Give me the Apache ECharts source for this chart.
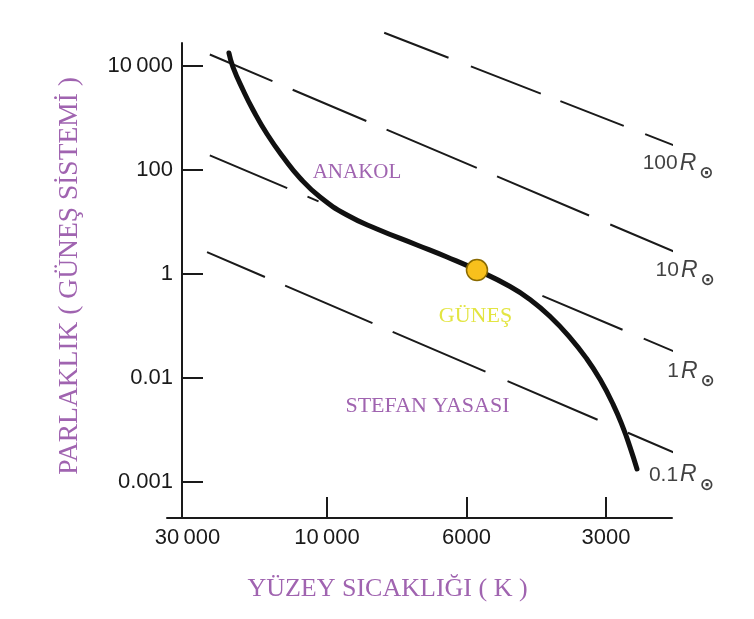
<!DOCTYPE html>
<html>
<head>
<meta charset="utf-8">
<script src="https://cdn.jsdelivr.net/npm/echarts@6/dist/echarts.min.js"></script>
<style>
  html, body { margin: 0; padding: 0; background: #ffffff; }
  #chart { width: 754px; height: 619px; }
</style>
</head>
<body>
<div id="chart"></div>
<script>
// Schematic H-R diagram: both axes are evenly spaced tick positions,
// labelled with the temperature / luminosity they stand for.
const tempLabels = ['30\u2009000', '10\u2009000', '6000', '3000'];
const lumLabels = ['0.001', '0.01', '1', '100', '10\u2009000'];

// Main sequence (ANAKOL), in tick-position units
const mainSeqTemp = [0.297, 0.326, 0.398, 0.470, 0.570, 0.685, 0.806, 0.950, 1.143, 1.358, 1.645, 1.860,
                     2.075, 2.312, 2.455, 2.599, 2.742, 2.864, 2.957, 3.050, 3.122, 3.172, 3.222];
const mainSeqLum  = [4.125, 3.990, 3.769, 3.577, 3.346, 3.125, 2.923, 2.740, 2.567, 2.433, 2.279, 2.163,
                     2.038, 1.880, 1.755, 1.591, 1.389, 1.181, 0.987, 0.749, 0.523, 0.335, 0.126];

// The Sun
const sunPoint = [2.075, 2.038];

// Lines of constant radius (Stefan law), start and end points
const radiusNames = ['100', '10', '1', '0.1'];
const radiusLineStart = [[1.41, 4.32], [0.16, 4.11], [0.16, 3.14], [0.14, 2.21]];
const radiusLineEnd   = [[3.52, 3.22], [3.55, 2.18], [3.55, 1.22], [3.58, 0.23]];

// Styling
const INK = '#1a1a1a';
const PURPLE = '#a064b0';
const SANS = 'Liberation Sans';
const SERIF = 'Liberation Serif';
// dash / gap lengths in pixels; the 1 R line runs under the main sequence curve
const dashPatterns = [
  [69, 24, 75, 21, 68, 23, 38],
  [68, 22, 80, 22, 98, 22, 100, 23, 78],
  [84, 22, 12, 243, 87, 23, 42],
  [63, 22, 95, 22, 101, 24, 98, 33, 65]
];
const radiusLabelOffsets = [[35, 16], [32, 15], [32, 16], [27, 17]];

const chart = echarts.init(document.getElementById('chart'), null, { renderer: 'canvas' });

const radiusSeries = radiusNames.map((nm, i) => ({
  type: 'line',
  name: nm + ' R',
  data: [radiusLineStart[i], radiusLineEnd[i]],
  showSymbol: false,
  symbol: 'none',
  clip: false,
  silent: true,
  z: 2,
  lineStyle: { color: INK, width: 2, type: dashPatterns[i], cap: 'butt' }
}));

const option = {
  animation: false,
  backgroundColor: '#ffffff',
  grid: { left: 167, right: 82, top: 43, bottom: 101, containLabel: false, outerBoundsMode: 'none' },
  xAxis: {
    type: 'value',
    min: -0.147,
    max: 3.473,
    name: 'YÜZEY SICAKLIĞI ( K )',
    nameLocation: 'middle',
    nameGap: 58,
    nameTextStyle: { fontFamily: SERIF, fontSize: 26, color: PURPLE, padding: [0, 64, 0, 0] },
    axisLine: { onZero: false, lineStyle: { color: INK, width: 2 } },
    axisTick: { show: true, inside: true, length: 21, customValues: [1, 2, 3],
                lineStyle: { color: INK, width: 2 } },
    axisLabel: {
      customValues: [0, 1, 2, 3],
      formatter: v => tempLabels[Math.round(v)],
      margin: 9, fontFamily: SANS, fontSize: 22, color: INK
    },
    splitLine: { show: false }
  },
  yAxis: {
    type: 'value',
    min: -0.346,
    max: 4.221,
    offset: -15,
    name: 'PARLAKLIK ( GÜNEŞ SİSTEMİ )',
    nameLocation: 'middle',
    nameRotate: 90,
    nameGap: 98,
    nameTextStyle: { fontFamily: SERIF, fontSize: 27.5, color: PURPLE, padding: [0, 0, 0, 9] },
    axisLine: { onZero: false, lineStyle: { color: INK, width: 2 } },
    axisTick: { show: true, inside: true, length: 21, customValues: [0, 1, 2, 3, 4],
                lineStyle: { color: INK, width: 2 } },
    axisLabel: {
      customValues: [0, 1, 2, 3, 4],
      formatter: v => lumLabels[Math.round(v)],
      margin: 9, fontFamily: SANS, fontSize: 22, color: INK
    },
    splitLine: { show: false }
  },
  series: [
    ...radiusSeries,
    {
      // radius captions at the right end of each constant-radius line
      type: 'scatter',
      name: 'radius captions',
      data: radiusLineEnd.map((p, i) => ({
        value: p, name: radiusNames[i], label: { offset: radiusLabelOffsets[i] }
      })),
      symbolSize: 0,
      clip: false,
      silent: true,
      z: 3,
      label: {
        show: true,
        position: 'inside',
        align: 'right',
        verticalAlign: 'middle',
        formatter: p => '{n|' + p.name + '}{r|R}{s|\u2299}',
        rich: {
          n: { fontFamily: SANS, fontSize: 21, color: '#111111' },
          r: { fontFamily: SANS, fontSize: 23, fontStyle: 'italic', color: '#111111', padding: [0, 0, 0, 2] },
          s: { fontFamily: 'DejaVu Sans', fontSize: 17, fontWeight: 'bold', color: '#111111', padding: [20, 0, 0, 3] }
        }
      }
    },
    {
      type: 'line',
      name: 'ANAKOL',
      data: mainSeqTemp.map((t, i) => [t, mainSeqLum[i]]),
      smooth: 0.5,
      showSymbol: false,
      symbol: 'none',
      clip: false,
      silent: true,
      z: 4,
      lineStyle: { color: '#111111', width: 5, cap: 'round', join: 'round' },
      markPoint: {
        symbol: 'circle',
        symbolSize: 0,
        silent: true,
        label: { show: true, position: 'inside', formatter: '{b}',
                 fontFamily: SERIF, fontSize: 21, color: PURPLE },
        data: [
          { name: 'ANAKOL', coord: [1.215, 2.98] },
          { name: 'STEFAN YASASI', coord: [1.72, 0.73], label: { fontSize: 22 } }
        ]
      }
    },
    {
      type: 'scatter',
      name: 'GÜNEŞ',
      data: [{ value: sunPoint, name: 'GÜNEŞ' }],
      symbol: 'circle',
      symbolSize: 21,
      silent: true,
      z: 5,
      itemStyle: { color: '#f8c01c', borderColor: '#8a6a00', borderWidth: 1.5, opacity: 1 },
      label: {
        show: true, position: 'inside', offset: [-1.5, 46], formatter: '{b}',
        fontFamily: SERIF, fontSize: 22, color: '#e3e542'
      }
    }
  ]
};

chart.setOption(option);
</script>
</body>
</html>
